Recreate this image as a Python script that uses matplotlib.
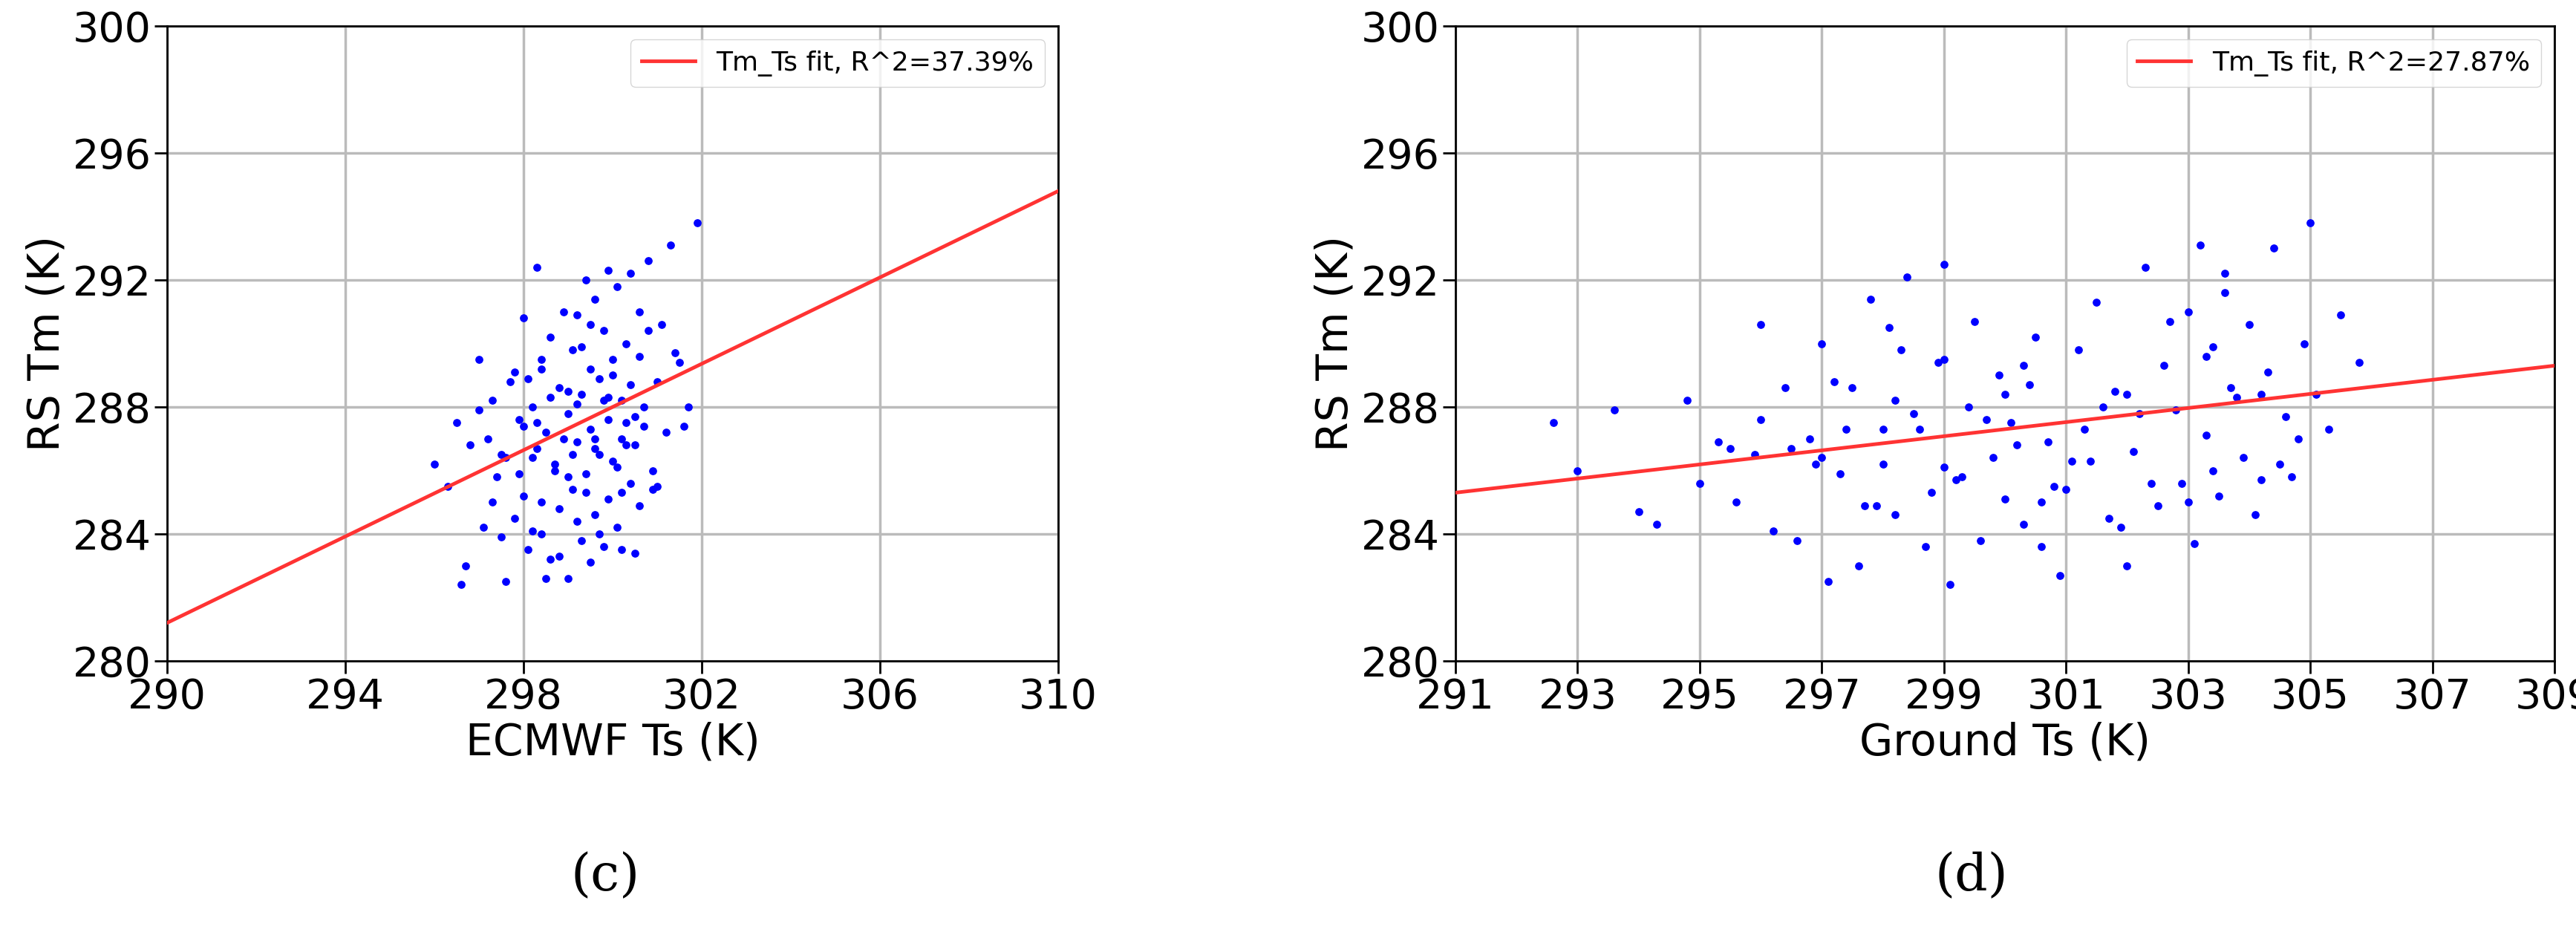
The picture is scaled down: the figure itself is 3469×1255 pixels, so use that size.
import numpy as np
import matplotlib.pyplot as plt

# panel (c): ECMWF Ts vs RS Tm (hand-estimated sample of the cloud)
c_x = [296.0,296.3,296.5,296.7,296.8,297.0,297.1,297.2,297.3,297.4,297.5,297.6,297.7,297.8,297.9,298.0,
       298.0,298.1,298.2,298.2,298.3,298.4,298.4,298.5,298.6,298.6,298.7,298.8,298.8,298.9,299.0,299.0,
       299.1,299.1,299.2,299.2,299.3,299.3,299.4,299.4,299.5,299.5,299.6,299.6,299.7,299.7,299.8,299.8,
       299.9,299.9,300.0,300.0,300.1,300.1,300.2,300.2,300.3,300.4,300.4,300.5,300.6,300.6,300.7,300.8,
       300.9,301.0,301.1,301.2,301.3,301.5,301.7,301.9,297.5,297.9,298.3,298.7,299.0,299.3,299.6,299.9,
       300.2,300.5,300.8,298.1,298.5,298.9,299.2,299.5,299.8,300.1,300.4,300.7,297.0,297.6,298.4,299.1,
       299.7,300.3,301.0,298.0,298.6,299.4,300.0,300.6,297.3,298.2,299.0,299.6,300.2,300.9,301.4,296.6,
       297.8,298.8,299.9,300.3,298.4,299.2,300.5,301.6,298.3,299.5]
c_y = [286.2,285.5,287.5,283.0,286.8,289.5,284.2,287.0,288.2,285.8,286.5,282.5,288.8,284.5,287.6,290.8,
       285.2,283.5,288.0,286.4,292.4,284.0,289.5,287.2,283.2,290.2,286.0,288.6,284.8,291.0,282.6,287.8,
       289.8,285.4,286.9,290.9,283.8,288.4,292.0,285.9,287.3,289.2,284.6,291.4,286.5,288.9,283.6,290.4,
       287.6,285.1,289.0,286.3,291.8,284.2,288.2,287.0,290.0,285.6,288.7,286.8,289.6,284.9,287.4,292.6,
       286.0,288.8,290.6,287.2,293.1,289.4,288.0,293.8,283.9,285.9,287.5,286.2,288.5,289.9,286.7,288.3,
       285.3,287.7,290.4,288.9,282.6,287.0,284.4,290.6,288.2,286.1,292.2,288.0,287.9,286.4,289.2,286.5,
       284.0,287.5,285.5,287.4,288.3,285.3,289.5,291.0,285.0,284.1,285.8,287.0,283.5,285.4,289.7,282.4,
       289.1,283.3,292.3,286.8,285.0,288.1,283.4,287.4,286.7,283.1]

# panel (d): Ground Ts vs RS Tm
d_x = [292.6,293.0,293.6,294.0,294.3,294.8,295.0,295.3,295.6,295.9,296.0,296.2,296.4,296.6,296.8,297.0,
       297.1,297.3,297.5,297.6,297.8,298.0,298.1,298.2,298.4,298.5,298.7,298.9,299.0,299.1,299.2,299.4,
       299.5,299.6,299.8,299.9,300.0,300.1,300.3,300.4,300.6,300.7,300.9,301.0,301.2,301.3,301.5,301.7,
       301.8,302.0,302.1,302.3,302.5,302.6,302.8,302.9,303.0,303.1,303.2,303.3,303.4,303.5,303.6,303.8,
       303.9,304.0,304.1,304.3,304.4,304.6,304.7,304.9,305.0,305.3,305.5,305.8,296.5,297.2,297.9,298.6,
       299.3,300.0,300.5,301.1,301.9,302.7,303.4,304.2,296.0,297.7,298.3,299.7,300.8,302.2,303.0,303.7,
       304.5,297.4,298.8,300.2,301.4,302.4,303.6,305.1,296.9,298.0,299.0,300.6,302.0,304.8,295.5,297.0,
       298.2,299.0,300.3,301.6,303.3,304.2]
d_y = [287.5,286.0,287.9,284.7,284.3,288.2,285.6,286.9,285.0,286.5,290.6,284.1,288.6,283.8,287.0,290.0,
       282.5,285.9,288.6,283.0,291.4,286.2,290.5,284.6,292.1,287.8,283.6,289.4,292.5,282.4,285.7,288.0,
       290.7,283.8,286.4,289.0,285.1,287.5,284.3,288.7,283.6,286.9,282.7,285.4,289.8,287.3,291.3,284.5,
       288.5,283.0,286.6,292.4,284.9,289.3,287.9,285.6,291.0,283.7,293.1,287.1,289.9,285.2,292.2,288.3,
       286.4,290.6,284.6,289.1,293.0,287.7,285.8,290.0,293.8,287.3,290.9,289.4,286.7,288.8,284.9,287.3,
       285.8,288.4,290.2,286.3,284.2,290.7,286.0,288.4,287.6,284.9,289.8,287.6,285.5,287.8,285.0,288.6,
       286.2,287.3,285.3,286.8,286.3,285.6,291.6,288.4,286.2,287.3,289.5,285.0,288.4,287.0,286.7,286.4,
       288.2,286.1,289.3,288.0,289.6,285.7]

# fit lines: (x0, y0, x1, y1)
c_fit = [290, 281.2, 310, 294.8]
d_fit = [291, 285.3, 309, 289.3]

fig = plt.figure(figsize=(34.69, 12.55), dpi=100)
ax1 = fig.add_axes([225/3469, 1-890/1255, 1200/3469, 855/1255])
ax2 = fig.add_axes([1960/3469, 1-890/1255, 1480/3469, 855/1255])

panels = [
    (ax1, c_x, c_y, c_fit, "Tm_Ts fit, R^2=37.39%", "ECMWF Ts (K)", (290, 310), np.arange(290, 311, 4)),
    (ax2, d_x, d_y, d_fit, "Tm_Ts fit, R^2=27.87%", "Ground Ts (K)", (291, 309), np.arange(291, 310, 2)),
]
for ax, xs, ys, fit, lab, xlabel, xlim, xt in panels:
    ax.scatter(xs, ys, s=45, c="blue", zorder=3)
    ax.plot([fit[0], fit[2]], [fit[1], fit[3]], color="#ff3333", lw=3.5, label=lab, zorder=4)
    ax.set_xlim(*xlim)
    ax.set_ylim(280, 300)
    ax.set_xticks(xt)
    ax.set_yticks(np.arange(280, 301, 4))
    ax.grid(True, color="#bbbbbb", lw=2.5)
    for s in ax.spines.values():
        s.set_linewidth(2)
    ax.tick_params(labelsize=40, length=12, width=2)
    ax.set_xlabel(xlabel, fontsize=42)
    ax.set_ylabel("RS Tm (K)", fontsize=42)
    ax.legend(loc="upper right", fontsize=26)

fig.text(815/3469, 1-1180/1255, "(c)", fontsize=50, family="DejaVu Serif", ha="center", va="center")
fig.text(2655/3469, 1-1180/1255, "(d)", fontsize=50, family="DejaVu Serif", ha="center", va="center")

fig.savefig("out.png", dpi=100)
